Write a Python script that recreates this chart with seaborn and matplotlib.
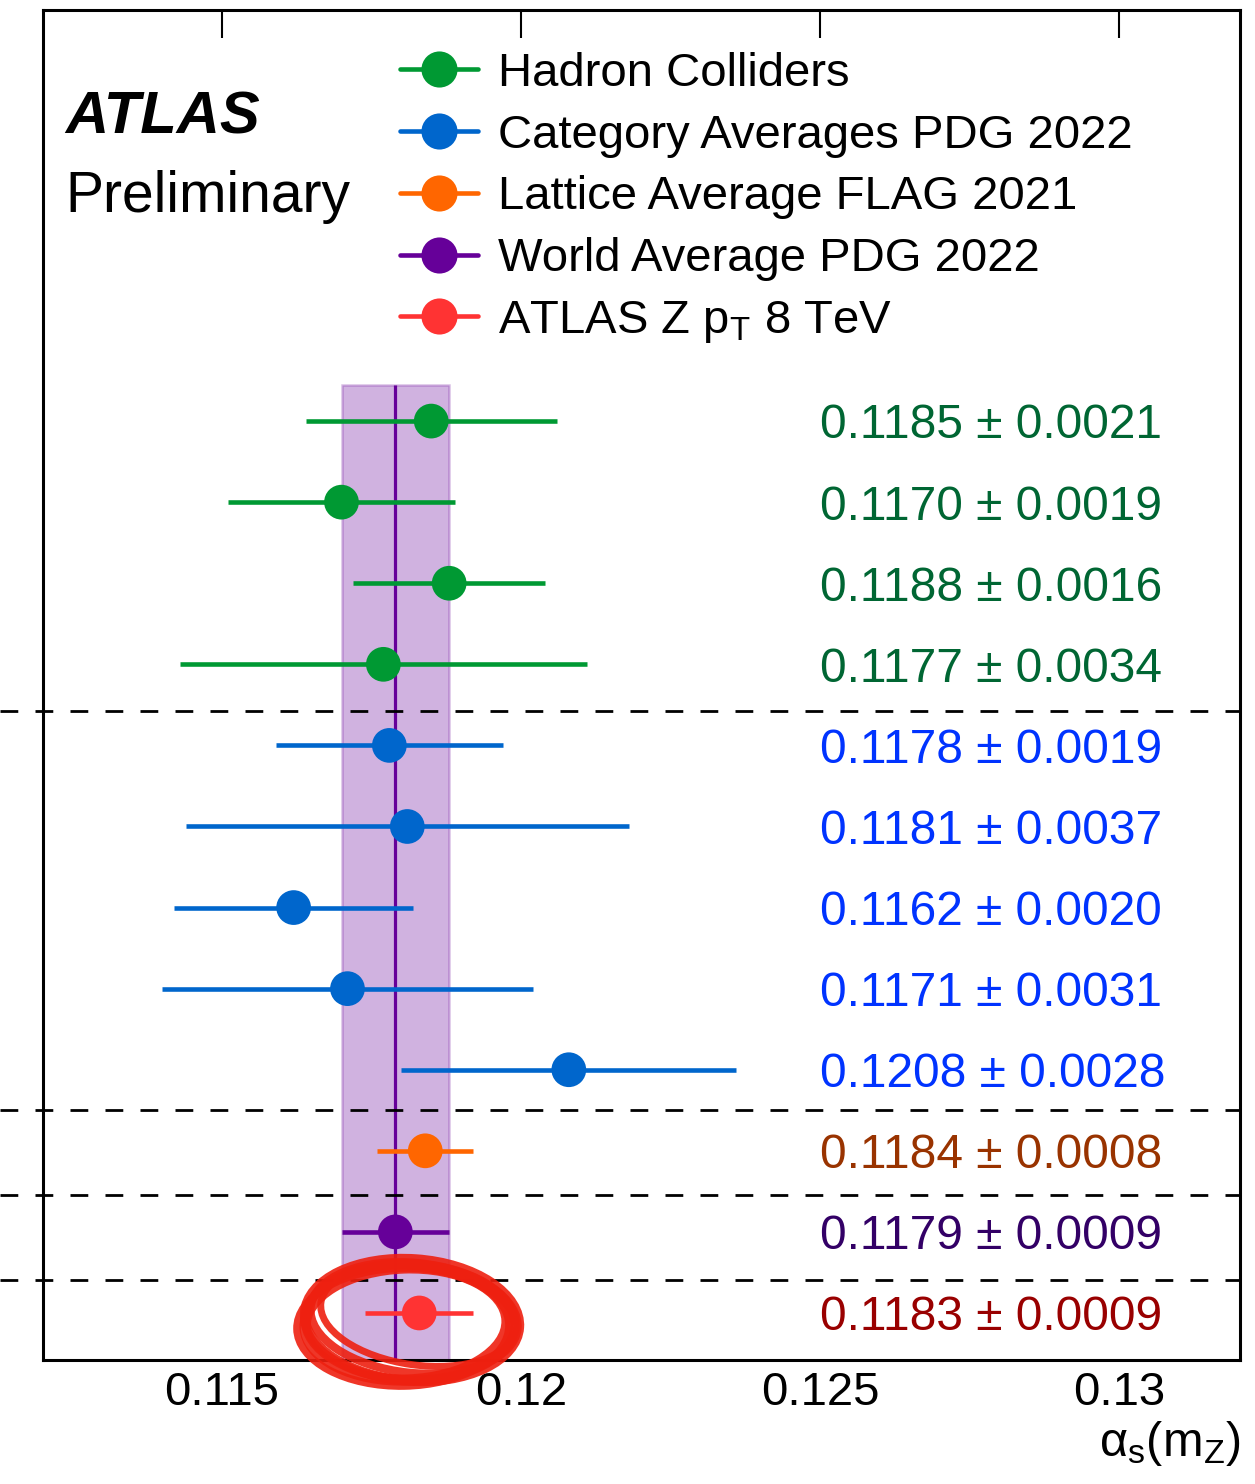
import matplotlib
matplotlib.use("Agg")
import matplotlib.pyplot as plt
import numpy as np
import pandas as pd
import seaborn as sns
from matplotlib.lines import Line2D
from matplotlib.patches import Ellipse, Rectangle
from matplotlib.transforms import blended_transform_factory

# ---- data -------------------------------------------------------------
group_names = [
    "Hadron Colliders",
    "Category Averages PDG 2022",
    "Lattice Average FLAG 2021",
    "World Average PDG 2022",
    "ATLAS Z p$_{\\mathrm{T}}$ 8 TeV",
]
point_group = [0, 0, 0, 0, 1, 1, 1, 1, 1, 2, 3, 4]
values = [0.1185, 0.1170, 0.1188, 0.1177,
          0.1178, 0.1181, 0.1162, 0.1171, 0.1208,
          0.1184, 0.1179, 0.1183]
errors = [0.0021, 0.0019, 0.0016, 0.0034,
          0.0019, 0.0037, 0.0020, 0.0031, 0.0028,
          0.0008, 0.0009, 0.0009]
world_avg_index = 10

tick_values = [0.115, 0.12, 0.125, 0.13]
tick_labels = ["0.115", "0.12", "0.125", "0.13"]

marker_colors = ["#009933", "#0066cc", "#ff6600", "#660099", "#ff3333"]
text_colors = ["#006633", "#0033ff", "#993300", "#330066", "#990000"]

# ---- style ------------------------------------------------------------
sns.set_theme(style="white")
plt.rcParams["font.family"] = ["Liberation Sans", "DejaVu Sans"]
plt.rcParams["mathtext.fontset"] = "custom"
plt.rcParams["mathtext.rm"] = "Liberation Sans"
plt.rcParams["mathtext.it"] = "Liberation Sans:italic"
plt.rcParams["mathtext.bf"] = "Liberation Sans:bold"
plt.rcParams["text.color"] = "black"
plt.rcParams["axes.labelcolor"] = "black"
plt.rcParams["xtick.color"] = "black"
plt.rcParams["xtick.labelcolor"] = "black"

df = pd.DataFrame({
    "value": values,
    "error": errors,
    "row": np.arange(len(values)),
    "group": [group_names[g] for g in point_group],
})

fig = plt.figure(figsize=(12.55, 14.84), dpi=100)
ax = fig.add_axes([43 / 1255, 1 - 1360 / 1484, 1197 / 1255, 1350 / 1484])

ax.set_xlim(0.11201, 0.13202)
ax.set_ylim(11.58, -5.07)

# world-average band and central line
wa_v = values[world_avg_index]
wa_e = errors[world_avg_index]
band_top = -0.45
ax.add_patch(Rectangle((wa_v - wa_e, band_top), 2 * wa_e, 11.58 - band_top,
                       facecolor=(0.4, 0.0, 0.6, 0.3),
                       edgecolor=(0.4, 0.0, 0.6, 0.25), lw=1.8, zorder=1))
ax.plot([wa_v, wa_v], [band_top, 11.58], color="#660099", lw=2.3, zorder=2,
        solid_capstyle="butt")

# horizontal error bars
for g in range(len(group_names)):
    sub = df[df["group"] == group_names[g]]
    ax.hlines(sub["row"], sub["value"] - sub["error"], sub["value"] + sub["error"],
              color=marker_colors[g], lw=3.3, zorder=3)

palette = dict(zip(group_names, marker_colors))
sns.scatterplot(data=df, x="value", y="row", hue="group", palette=palette,
                s=25 ** 2, linewidth=0, legend=False, ax=ax, zorder=4)

# value labels
for v, e, r, g in zip(values, errors, df["row"], point_group):
    ax.text(0.125, r + 0.06, f"{v:.4f} ± {e:.4f}", color=text_colors[g],
            fontsize=34.5, ha="left", va="center", zorder=5)

# separators between categories
sep_rows = [3.58, 8.5, 9.54, 10.59]
trans = blended_transform_factory(ax.transAxes, ax.transData)
for yy in sep_rows:
    ax.plot([-43 / 1197, 1.0], [yy, yy], transform=trans, color="black", lw=2.0,
            dashes=(6.4, 6.2), clip_on=False, zorder=2)

# axes cosmetics
ax.set_xticks(tick_values)
ax.set_xticklabels(tick_labels, fontsize=34)
ax.set_yticks([])
ax.tick_params(axis="x", direction="in", length=20, width=1.5, top=True,
               labeltop=False, pad=8, color="black")
for sp in ax.spines.values():
    sp.set_linewidth(2.2)
    sp.set_color("black")
ax.set_xlabel("")
ax.set_ylabel("")

fig.text(1240 / 1255, 1 - 1456 / 1484, "α$_{\\mathrm{s}}$(m$_{\\mathrm{Z}}$)",
         fontsize=35, ha="right", va="baseline")

# experiment label
ax.text(22 / 1197, (1360 - 133) / 1350, "ATLAS", transform=ax.transAxes,
        fontsize=43, fontweight="bold", fontstyle="italic", ha="left", va="baseline")
ax.text(22 / 1197, (1360 - 212) / 1350, "Preliminary", transform=ax.transAxes,
        fontsize=41, ha="left", va="baseline")

# legend
handles = [Line2D([0], [0], color=c, lw=3.3, marker="o", markersize=26,
                  markeredgewidth=0) for c in marker_colors]
ax.legend(handles, group_names, loc="upper left", frameon=False, fontsize=34,
          bbox_to_anchor=((400 - 43) / 1197, (1360 - 52) / 1350),
          handlelength=1.65, handletextpad=0.42, labelspacing=0.375, borderpad=0,
          borderaxespad=0)

# hand-drawn highlight around the ATLAS result
scribble = [
    (4.12, 1.64, 2.15, 1.22, -4, 7.0),
    (4.14, 1.66, 2.08, 1.10, -6, 6.0),
    (4.06, 1.60, 2.02, 1.12, 2, 8.0),
    (4.18, 1.68, 1.96, 0.98, -8, 5.0),
    (4.10, 1.62, 2.10, 1.16, -2, 6.5),
    (4.03, 1.57, 2.12, 1.18, 1, 5.5),
]
for cx, cy, w, h, ang, lw in scribble:
    ax.add_patch(Ellipse((cx, cy), w, h, angle=ang, transform=fig.dpi_scale_trans,
                         fill=False, edgecolor="#ee2010", lw=lw, alpha=0.9,
                         clip_on=False, zorder=10))

fig.savefig("out.png", dpi=100)
